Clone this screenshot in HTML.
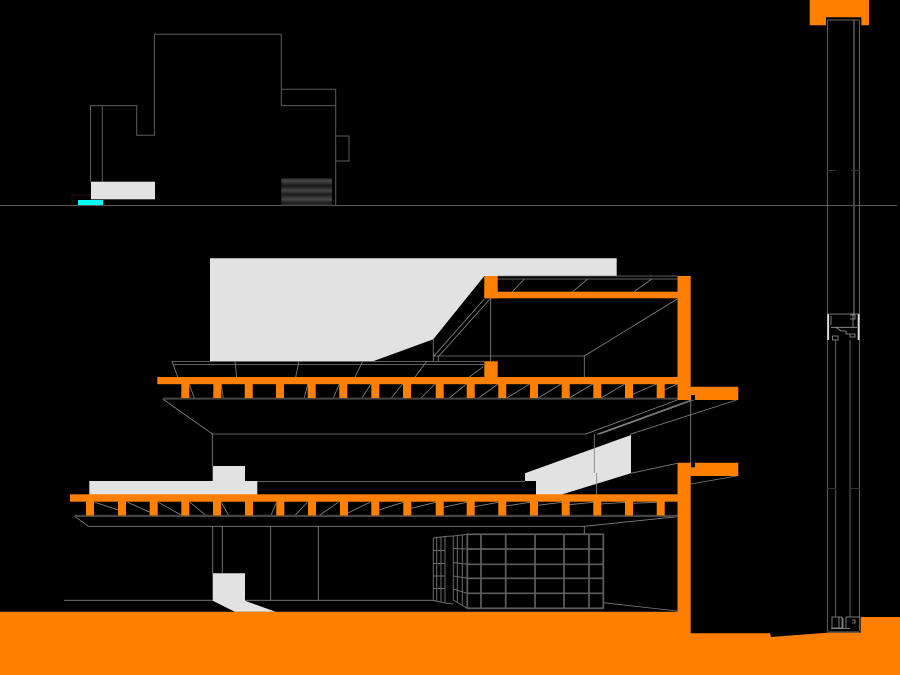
<!DOCTYPE html>
<html><head><meta charset="utf-8"><style>
html,body{margin:0;padding:0;background:#000;width:900px;height:675px;overflow:hidden}
svg{display:block}
</style></head><body>
<svg width="900" height="675" viewBox="0 0 900 675" xmlns="http://www.w3.org/2000/svg">
<defs>
<linearGradient id="st" gradientUnits="userSpaceOnUse" x1="0" y1="178.3" x2="0" y2="205.3">
<stop offset="0" stop-color="#2a2a2a"/><stop offset="0.1" stop-color="#464646"/>
<stop offset="0.28" stop-color="#181818"/><stop offset="0.45" stop-color="#464646"/>
<stop offset="0.6" stop-color="#1c1c1c"/><stop offset="0.78" stop-color="#464646"/>
<stop offset="0.92" stop-color="#1c1c1c"/><stop offset="1" stop-color="#333"/>
</linearGradient>
</defs>
<rect width="900" height="675" fill="#000"/>

<!-- light fills -->
<g fill="#e2e2e2">
<polygon points="210,258.3 616.7,258.3 616.7,276 484.3,276 433.3,339.3 373,361.3 210,361.3"/>
<rect x="91" y="181.7" width="64" height="17.6"/>
<polygon points="89.3,481 212.7,481 212.7,466 245,466 245,481 257.3,481 257.3,494.5 89.3,494.5"/>
<polygon points="525,473.3 631,435 631,473.3 561.7,494.5 536,494.5 536,481 525,481"/>
<polygon points="212.7,573.3 245,573.3 245,600.7 276,611.9 235,611.9 212.7,600.7"/>
</g>
<rect x="78" y="200" width="25" height="5" fill="#00ffff"/>

<!-- top elevation outline -->
<g fill="none" stroke="#5c5c5c" stroke-width="1">
<path d="M90.5,181.7V105.6H136.7V135.3H154.4V34.3H281.3V105.6"/>
<path d="M102.3,105.6V181.7M281.3,89.3H335.7V205.3M281.3,105.6H335.7M335.7,136H349V161H335.7"/>
</g>
<path d="M72,205V195.2H91" fill="none" stroke="#3a0a0a" stroke-width="0.8"/>
<line x1="0" y1="205.4" x2="897" y2="205.4" stroke="#666" stroke-width="0.9"/>
<!-- stripes -->
<rect x="281.3" y="178.3" width="50.7" height="27" fill="url(#st)"/>

<!-- thin section lines -->
<g fill="none" stroke="#808080" stroke-width="0.85">
<path d="M172,361.5H484M173,364.5H484"/>
<path d="M172,361.3L177.7,377M235,361.3L236.7,377M299,361.3L295.7,377M362.7,361.3L355,377M426.7,361.3L415,377M483.3,366.7L469.3,377"/>
<path d="M189.3,384.3L194.3,398M221.3,384L223.3,398M307.7,384L304.3,398M339.3,384L333.3,398M371,384L362,398M402.7,384L391.3,398M435,384L421,398M466,384.3L449.3,398M498,384L478.7,398M529.7,384L506.7,398M561.3,384L538.3,398M593,384L569.3,398M624.7,384L601,398M656.3,384L632.7,394.3M677.3,384L664.3,390"/>
<path d="M162.7,399L212.3,434H585M212.3,434V466"/>
<path d="M585,434.3L677.3,400M596.7,434.3L690.7,400M599,434.3L695,399.5M630,434.3L736.7,400"/>
<path d="M690.7,400V463M594.3,434V473M596.7,473V495"/>
<path d="M497.7,279H678M497.7,276H678"/>
<path d="M524.3,279L512.3,291.7M587.7,279L572.7,291.7M651.7,279L634,291.7"/>
<path d="M490.7,298V361M484.3,299L433.3,356.7M490,299L438.3,356.7M433.3,356H584.3V377M584.3,356L677.3,299M433.3,339V361.3M438.3,356V361.3"/>
<path d="M257.3,481.5H525"/>
<path d="M631,473.3L677.3,463.3M690.7,484L736.7,476"/>
<path d="M95,502.3L118.3,510M127.7,502.3L150,512.3M158.3,502.3L180.7,514.7M190,502.3L207.3,516.7M221.3,502.3L229,516M276,503.3L271,515.3M307.3,502.3L295,515.3M338.3,502.3L318.3,516M370,502.3L347.3,513.3M403.3,502.3L379,510M435.7,502.3L411,508.3M466.7,502.3L443.3,507.3M498.3,502.3L474.3,506.7M530,502.3L506,506M561.7,502.3L537.7,505.3M593.3,502.3L569.3,504.7M625,502.3L601,504M656.7,502.3L632.7,503.3"/>
<path d="M74,515.7L88.3,526.3H584.3V535M584.3,526.3L677.3,516.7"/>
<path d="M212.7,526V573.3M222.3,526V573.3M270.7,526V600.3M318.3,526V600.3"/>
<path d="M64,600.3H212.7M245,600.3H433.3L445,603M603.3,602.7L677.3,611"/>
</g>

<!-- glazing grid -->
<g fill="none" stroke="#5e5e5e" stroke-width="1.7">
<rect x="467.3" y="534.3" width="136" height="74"/>
<path d="M481,534.3V608.3M505.7,534.3V608.3M535,534.3V608.3M564,534.3V608.3M589,534.3V608.3"/>
<path d="M467.3,549H603.3M467.3,564.3H603.3M467.3,578.3H603.3M467.3,593.3H603.3"/>
</g>
<g fill="none" stroke="#6c6c6c" stroke-width="1">
<path d="M453.3,536L467.3,534.3M453.3,600L467.3,608.3M453.3,536V600M457.3,535.5V602.3M462.3,535V605"/>
<path d="M453.3,548.5L467.3,549M453.3,562.5L467.3,564.3M453.3,576L467.3,578.3M453.3,589L467.3,593.3"/>
<path d="M433.3,538L445,536.5V603L433.3,600.5V538M436.7,537.6V601M441,537V602"/>
<path d="M433.3,550.5H445M433.3,563.5H445M433.3,576H445M433.3,588.5H445"/>
<path d="M445,536.5L453.3,536M445,603L453.3,604"/>
</g>

<!-- dark strips under slabs -->
<rect x="163" y="397.6" width="515" height="2" fill="#454545"/>
<rect x="74" y="514.8" width="604" height="2.2" fill="#454545"/>

<!-- orange sections -->
<g fill="#ff8000">
<polygon points="0,611.8 677.5,611.8 677.5,462.7 738.3,462.7 738.3,476 690.7,476 690.7,633.3 770,633.3 771,637 827,632.7 860.7,632.7 860.7,617 900,617 900,675 0,675"/>
<polygon points="677.5,276 690.7,276 690.7,386.7 738.3,386.7 738.3,400 677.5,400"/>
<rect x="484.3" y="276" width="13.4" height="22.3"/>
<rect x="484.3" y="291.7" width="194" height="6.6"/>
<rect x="484.3" y="361.3" width="13.4" height="16"/>
<rect x="157.3" y="377" width="521" height="7.2"/>
<rect x="70" y="494.3" width="608" height="7.4"/>
<path d="M809.7,0H869V25.3H861.3V17.3H826V25.3H809.7Z"/>
<rect x="181.3" y="384" width="8" height="14"/><rect x="213.3" y="384" width="8" height="14"/><rect x="244.7" y="384" width="8" height="14"/><rect x="276" y="384" width="8" height="14"/><rect x="307.7" y="384" width="8" height="14"/><rect x="339.3" y="384" width="8" height="14"/><rect x="371.3" y="384" width="8" height="14"/><rect x="403" y="384" width="8" height="14"/><rect x="435.7" y="384" width="8" height="14"/><rect x="466.7" y="384" width="8" height="14"/><rect x="498.3" y="384" width="8" height="14"/><rect x="530" y="384" width="8" height="14"/><rect x="561.7" y="384" width="8" height="14"/><rect x="593.3" y="384" width="8" height="14"/><rect x="625" y="384" width="8" height="14"/><rect x="656.7" y="384" width="8" height="14"/>
<rect x="86" y="501.5" width="8" height="14"/><rect x="118" y="501.5" width="8" height="14"/><rect x="149.7" y="501.5" width="8" height="14"/><rect x="181.3" y="501.5" width="8" height="14"/><rect x="213" y="501.5" width="8" height="14"/><rect x="245" y="501.5" width="8" height="14"/><rect x="276.3" y="501.5" width="8" height="14"/><rect x="308" y="501.5" width="8" height="14"/><rect x="340" y="501.5" width="8" height="14"/><rect x="371.3" y="501.5" width="8" height="14"/><rect x="403.3" y="501.5" width="8" height="14"/><rect x="435.7" y="501.5" width="8" height="14"/><rect x="466.7" y="501.5" width="8" height="14"/><rect x="498.3" y="501.5" width="8" height="14"/><rect x="530" y="501.5" width="8" height="14"/><rect x="561.7" y="501.5" width="8" height="14"/><rect x="593.3" y="501.5" width="8" height="14"/><rect x="625" y="501.5" width="8" height="14"/><rect x="656.7" y="501.5" width="8" height="14"/>
</g>
<rect x="691" y="395" width="4" height="5" fill="#000"/>
<rect x="691" y="462.7" width="4" height="4.6" fill="#000"/>

<!-- tall window section -->
<g fill="none" stroke="#6a6a6a" stroke-width="0.9">
<path d="M827.4,20V631M859.5,20V631M827.4,20H859.5"/>
<path d="M835.7,340V617M850,340V617"/>
<path d="M827.4,632H859.5"/>
</g>
<line x1="854" y1="20" x2="854" y2="314" stroke="#555" stroke-width="1.6"/>
<g stroke="#333" stroke-width="1">
<path d="M827,170.5H836M851,170.5H860M827,488.5H836M851,488.5H860"/>
</g>
<rect x="827.3" y="314" width="1.8" height="26" fill="#e0e0e0"/>
<rect x="857.7" y="314" width="1.8" height="26" fill="#e0e0e0"/>
<g fill="none" stroke="#9a9a9a" stroke-width="0.8">
<path d="M827.4,314H859.5M831,327.3H857M831,316V325M853,314V327.3M850,315H855V319H850"/>
<path d="M836,327.3L841,331H846V334H850M832.5,336H838V340H832.5ZM850,334H855V337H850Z"/>
<path d="M832,617H842V628H832ZM839,617V628M843,618V628M846,617V628M852,620H855V623H852M846,617H860"/>
<path d="M831,628.5H850"/>
</g>
</svg>
</body></html>
